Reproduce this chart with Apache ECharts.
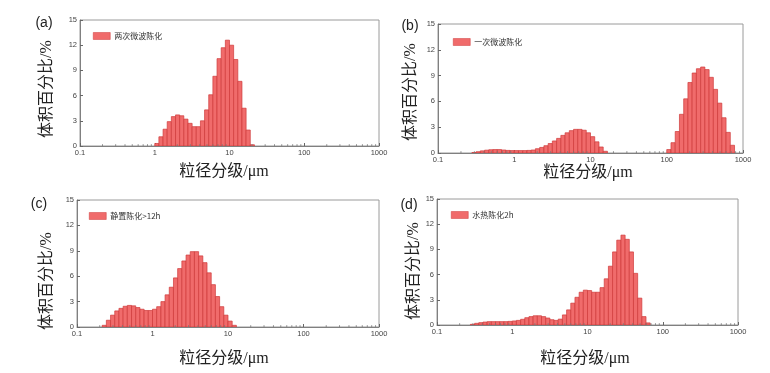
<!DOCTYPE html>
<html><head><meta charset="utf-8">
<script src="https://cdn.jsdelivr.net/npm/echarts@6/dist/echarts.min.js"></script>
<style>html,body{margin:0;padding:0;background:#fff}#c{width:770px;height:373px}</style>
</head><body><div id="c"></div>
<script>
// size classes: 18 per decade (lower edges = decade * mantissa)
const sizeClassMantissa = [1, 1.136, 1.292, 1.468, 1.668, 1.896, 2.154, 2.448, 2.783, 3.162, 3.594, 4.084, 4.642, 5.275, 5.995, 6.813, 7.743, 8.799];
const decadeStarts = [0.1, 1, 10, 100];
const sizeMax = 1000;
const xTickLabels = ['0.1', '1', '10', '100', '1000'];
const minorMultipliers = [2, 3, 4, 5, 6, 7, 8, 9];
const yTickLabels = ['0', '3', '6', '9', '12', '15'];

const panelLabels = ['(a)', '(b)', '(c)', '(d)'];
const seriesNames = ['两次微波陈化', '一次微波陈化', '静置陈化>12h', '水热陈化2h'];
const xTitle = '粒径分级/μm';
const yTitle = '体积百分比/%';

// first size class (µm) of each distribution and volume percentages per class
const startSizeA = 1.0;
const valuesA = [0.3, 1.1, 2.0, 2.9, 3.5, 3.7, 3.6, 3.2, 2.7, 2.3, 2.3, 3.0, 4.3, 6.1, 8.3, 10.4, 11.7, 12.6, 12.0, 10.3, 7.7, 4.5, 1.9, 0.15];

const startSizeB = 0.2783;
const valuesB = [0.05, 0.15, 0.25, 0.33, 0.38, 0.4, 0.4, 0.35, 0.3, 0.28, 0.28, 0.28, 0.28, 0.3, 0.35, 0.5, 0.65, 0.85, 1.1, 1.4,
  1.7, 2.05, 2.35, 2.6, 2.75, 2.75, 2.65, 2.35, 1.9, 1.3, 0.7, 0.2,
  0, 0, 0, 0, 0, 0, 0, 0, 0, 0, 0, 0, 0, 0,
  0.4, 1.2, 2.5, 4.5, 6.3, 8.2, 9.3, 9.8, 10.0, 9.7, 8.8, 7.4, 5.8, 4.1, 2.4, 0.9];

const startSizeC = 0.2154;
const valuesC = [0.2, 0.8, 1.4, 1.9, 2.2, 2.45, 2.55, 2.5, 2.3, 2.1, 1.95, 1.95, 2.1, 2.4, 3.0, 3.8, 4.7, 5.8, 6.9, 7.8,
  8.5, 8.9, 8.9, 8.4, 7.6, 6.4, 5.0, 3.6, 2.4, 1.4, 0.7, 0.2];

const startSizeD = 0.2783;
const valuesD = [0.08, 0.2, 0.28, 0.35, 0.4, 0.4, 0.4, 0.4, 0.4, 0.43, 0.48, 0.55, 0.68, 0.87, 1.0, 1.1, 1.1, 1.0, 0.83, 0.63,
  0.55, 0.7, 1.2, 1.8, 2.6, 3.3, 3.9, 4.15, 4.1, 3.9, 3.9, 4.45, 5.5, 7.0, 8.7, 10.1, 10.7, 10.2, 8.7, 6.15, 3.2, 1.0, 0.25];

// ---------- build tables ----------
const edges = [];
decadeStarts.forEach(d => sizeClassMantissa.forEach(m => edges.push(+(d * m).toPrecision(4))));
edges.push(sizeMax);
const minorTicks = [];
decadeStarts.forEach(d => minorMultipliers.forEach(m => minorTicks.push(+(d * m).toPrecision(4))));

function classIndex(s) {
  let best = 0, bd = Infinity;
  edges.forEach((e, i) => { const dd = Math.abs(Math.log(e / s)); if (dd < bd) { bd = dd; best = i; } });
  return best;
}
function buildBars(start, vals) {
  const i0 = classIndex(start);
  const out = [];
  vals.forEach((v, j) => { if (v > 0) out.push([edges[i0 + j], edges[i0 + j + 1], v]); });
  return out;
}
const barData = [buildBars(startSizeA, valuesA), buildBars(startSizeB, valuesB), buildBars(startSizeC, valuesC), buildBars(startSizeD, valuesD)];

const grids = [
  { left: 80, top: 20, width: 299, height: 126 },
  { left: 438, top: 24, width: 305, height: 129 },
  { left: 77, top: 200, width: 302, height: 127 },
  { left: 437, top: 199, width: 301, height: 126 }
];
const legendPos = [[93, 32], [453, 38], [89, 212], [451, 211]];
const labelPos = [[44, 23], [410, 26], [39, 204], [409, 205]];
const xTitlePos = [[224, 172], [588, 173], [224, 359], [585, 359]];
const yTitlePos = [[47, 89], [411, 92], [47, 281], [414, 271]];

const fill = '#f06b6b', edge = '#cf3a3a';
const tickFont = { fontSize: 7.5, color: '#444', fontFamily: 'Liberation Sans, Arial, sans-serif' };

const option = {
  animation: false,
  backgroundColor: '#fff',
  grid: grids.map(g => Object.assign({ show: true, borderColor: '#9a9a9a', borderWidth: 1, backgroundColor: 'transparent' }, g)),
  xAxis: grids.map((g, i) => ({
    type: 'log', logBase: 10, gridIndex: i, min: 0.1, max: 1000,
    axisLine: { lineStyle: { color: '#808080', width: 1 } },
    axisTick: { inside: true, length: 3, lineStyle: { color: '#666' } },
    axisLabel: Object.assign({ margin: 3, formatter: (v) => xTickLabels[Math.round(Math.log10(v)) + 1] }, tickFont),
    splitLine: { show: false }
  })),
  yAxis: grids.map((g, i) => ({
    type: 'value', gridIndex: i, min: 0, max: 15, interval: 3,
    axisLine: { show: true, lineStyle: { color: '#808080', width: 1 } },
    axisTick: { show: true, inside: true, length: 3, lineStyle: { color: '#666' } },
    axisLabel: Object.assign({ margin: 3, formatter: (v) => yTickLabels[Math.round(v / 3)] }, tickFont),
    splitLine: { show: false }
  })),
  legend: grids.map((g, i) => ({
    data: [seriesNames[i]], left: legendPos[i][0], top: legendPos[i][1], padding: 0,
    icon: 'rect', itemWidth: 17, itemHeight: 7, itemGap: 4,
    itemStyle: { color: fill, borderColor: edge, borderWidth: 0.5 },
    textStyle: { fontSize: 8, color: '#333', fontFamily: 'Noto Sans CJK SC, sans-serif', padding: [0, 0, 0, -1] }
  })),
  graphic: [].concat(
    panelLabels.map((t, i) => ({ type: 'text', x: labelPos[i][0], y: labelPos[i][1],
      style: { text: t, align: 'center', verticalAlign: 'middle', fontSize: 14, fill: '#222', fontFamily: 'Liberation Sans, Arial, sans-serif' } })),
    xTitlePos.map(p => ({ type: 'text', x: p[0], y: p[1],
      style: { text: xTitle, align: 'center', verticalAlign: 'middle', fontSize: 16, fill: '#222', fontFamily: "'Liberation Serif', 'Noto Sans CJK SC', serif" } })),
    yTitlePos.map(p => ({ type: 'text', x: p[0], y: p[1], rotation: Math.PI / 2,
      style: { text: yTitle, align: 'center', verticalAlign: 'middle', fontSize: 16, fill: '#222', fontFamily: "'Liberation Serif', 'Noto Sans CJK SC', serif" } }))
  ),
  series: [].concat(
    barData.map((d, i) => ({
      name: seriesNames[i], type: 'custom', xAxisIndex: i, yAxisIndex: i, data: d, clip: true,
      itemStyle: { color: fill, borderColor: edge, borderWidth: 0.5 },
      encode: { x: [0, 1], y: 2 },
      renderItem: function (params, api) {
        const p0 = api.coord([api.value(0), api.value(2)]);
        const p1 = api.coord([api.value(1), 0]);
        return { type: 'rect', shape: { x: p0[0], y: p0[1], width: p1[0] - p0[0], height: p1[1] - p0[1] },
          style: { fill: fill, stroke: edge, lineWidth: 0.7 } };
      }
    })),
    grids.map((g, i) => ({
      type: 'custom', xAxisIndex: i, yAxisIndex: i, silent: true, data: minorTicks.map(v => [v, 0]),
      renderItem: function (params, api) {
        const p = api.coord([api.value(0), 0]);
        return { type: 'line', shape: { x1: p[0], y1: p[1], x2: p[0], y2: p[1] - 1.8 }, style: { stroke: '#777', lineWidth: 0.8 } };
      }
    }))
  )
};
const chart = echarts.init(document.getElementById('c'), null, { renderer: 'canvas' });
chart.setOption(option);
</script></body></html>
